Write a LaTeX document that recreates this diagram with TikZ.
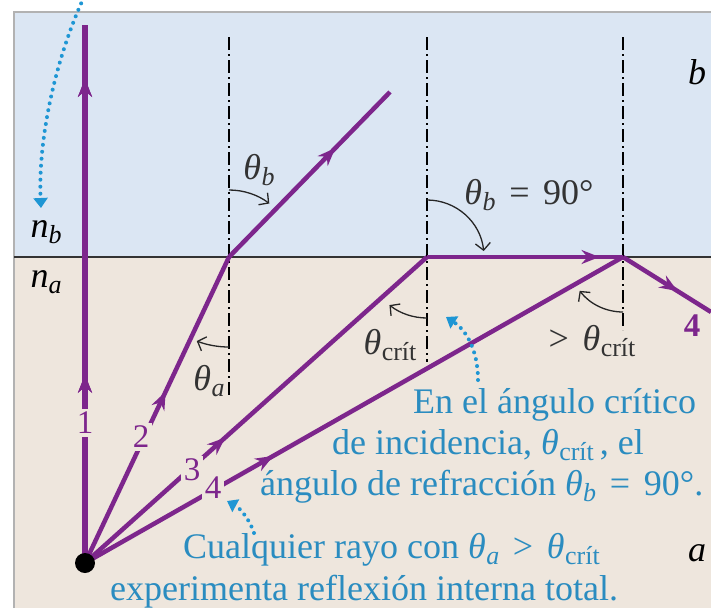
\documentclass[tikz,border=0pt]{standalone}
\usepackage{fontspec}
\setmainfont{Liberation Serif}
\usetikzlibrary{arrows.meta,decorations.markings}
\definecolor{raycol}{RGB}{125,38,140}
\definecolor{topbg}{RGB}{219,230,243}
\definecolor{botbg}{RGB}{238,230,221}
\definecolor{notecol}{RGB}{42,140,192}
\definecolor{dotcol}{RGB}{30,150,212}
\newcommand\subtxt[1]{\raisebox{-0.4ex}{\fontsize{26}{26}\selectfont #1}}
\newcommand\tsub[1]{\textit{θ}\kern0.5pt\subtxt{#1}}
\newcommand\relsp{\hspace{0.38em}}
\newcommand\bigtxt{\fontsize{36}{42}\selectfont}
\newcommand\labtxt{\fontsize{33}{38}\selectfont}
\tikzset{
  raypath/.style={draw=raycol, line width=4.5pt},
  midarrow/.style={postaction={decorate}, decoration={markings, mark=at position #1 with {\arrow{Stealth[length=18pt,width=14pt,inset=6pt]}}}},
  normalline/.style={draw=black, line width=1.4pt, dash pattern=on 13pt off 4pt on 2pt off 4pt},
  anglearc/.style={draw=black!85, line width=1.3pt, -{Straight Barb[length=7pt,width=15pt]}},
  raylab/.style={text=raycol, fill=botbg, inner sep=3pt, font=\labtxt},
  anglab/.style={text=black!80, font=\bigtxt, inner sep=0pt},
  note/.style={text=notecol, font=\bigtxt, inner sep=0pt, anchor=base west},
  dotarrow/.style={draw=dotcol, line width=4pt, line cap=round, dash pattern=on 0pt off 7pt, -{Triangle[length=10pt,width=14pt]}},
}
\begin{document}
\begin{tikzpicture}[x=1pt,y=-1pt]
\useasboundingbox (0,0) rectangle (711,608);
\fill[white] (0,0) rectangle (711,608);
\fill[topbg] (14,12) rectangle (711,257);
\fill[botbg] (14,257) rectangle (711,608);
\draw[black!30, line width=1.2pt] (14,608) -- (14,12) -- (711,12);
\coordinate (il) at (14,257);
\coordinate (ir) at (711,257);
\draw[black!80, line width=1.3pt] (il) -- (ir);

% key points
\coordinate (src) at (85,563);
\coordinate (p2) at (229,257);
\coordinate (p3) at (427,257);
\coordinate (p4) at (623,257);
\coordinate (r1) at (85,25);
\coordinate (r2) at (390,92);
\coordinate (r4) at (711,312);

% normals
\coordinate (n1t) at (229,37); \coordinate (n1b) at (229,395);
\coordinate (n2t) at (427,37); \coordinate (n2b) at (427,362);
\coordinate (n3t) at (623,37); \coordinate (n3b) at (623,330);
\draw[normalline] (n1t) -- (n1b);
\draw[normalline] (n2t) -- (n2b);
\draw[normalline] (n3t) -- (n3b);

% rays
\draw[raypath, line width=6pt, midarrow=0.35, midarrow=0.9] (src) -- (r1);
\draw[raypath, midarrow=0.56] (src) -- (p2);
\draw[raypath, midarrow=0.66] (p2) -- (r2);
\draw[raypath, midarrow=0.41] (src) -- (p3);
\draw[raypath, midarrow=0.88] (p3) -- (p4);
\draw[raypath, midarrow=0.35] (src) -- (p4);
\draw[raypath, midarrow=0.62] (p4) -- (r4);
\fill[black] (src) circle[radius=10];

% ray labels
\node[raylab] (l1) at (85,423) {1};
\node[raylab] (l2) at (141,437) {2};
\node[raylab] (l3) at (192,470) {3};
\node[raylab] (l4) at (213,488) {4};
\node[text=raycol, font=\labtxt\bfseries, inner sep=0pt] (l4r) at (692,326) {4};

% angle arcs
\draw[anglearc] ([shift={(270:67)}]p2) arc[start angle=270, end angle=307, radius=67];
\draw[anglearc] ([shift={(90:90)}]p2) arc[start angle=90, end angle=111, radius=90];
\draw[anglearc] ([shift={(270:57)}]p3) arc[start angle=270, end angle=354, radius=57];
\draw[anglearc] ([shift={(90:61)}]p3) arc[start angle=90, end angle=128, radius=61];
\draw[anglearc] ([shift={(90:55)}]p4) arc[start angle=90, end angle=142, radius=55];

% angle labels
\node[anglab] (tb) at (259,170) {\tsub{\textit{b}}};
\node[anglab] (ta) at (209,381) {\tsub{\textit{a}}};
\node[anglab] (tb90) at (529,195) {\tsub{\textit{b}}\relsp=\relsp90°};
\node[anglab] (tc) at (390,345) {\tsub{crít}};
\node[anglab] (tgc) at (592,341) {>\relsp\tsub{crít}};

% medium labels
\node[anglab, text=black] (nb) at (46,232) {\textit{n}\subtxt{\textit{b}}};
\node[anglab, text=black] (na) at (46,282) {\textit{n}\subtxt{\textit{a}}};
\node[anglab, text=black] (mb) at (697,72) {\textit{b}};
\node[anglab, text=black] (ma) at (697,553) {\textit{a}};

% notes
\node[note] (t1) at (413,413) {En el ángulo crítico};
\node[note] (t2) at (332,454) {de incidencia, \tsub{crít}\,, el};
\node[note] (t3) at (260,495) {ángulo de refracción \tsub{\textit{b}}\relsp=\relsp90°.};
\node[note] (t4) at (183,558) {Cualquier rayo con \tsub{\textit{a}}\relsp>\relsp\tsub{crít}};
\node[note] (t5) at (110,600) {experimenta reflexión interna total.};

% dotted pointers
\coordinate (d1s) at (84,-3);
\coordinate (d1e) at (41,208);
\draw[dotarrow] (d1s) .. controls (55,60) and (38,140) .. (d1e);
\coordinate (d2s) at (478,380);
\coordinate (d2e) at (446,317);
\draw[dotarrow] (d2s) .. controls (478,350) and (466,330) .. (d2e);
\coordinate (d3s) at (254,533);
\coordinate (d3e) at (227,501);
\draw[dotarrow] (d3s) .. controls (250,520) and (240,508) .. (d3e);
\end{tikzpicture}
\end{document}
